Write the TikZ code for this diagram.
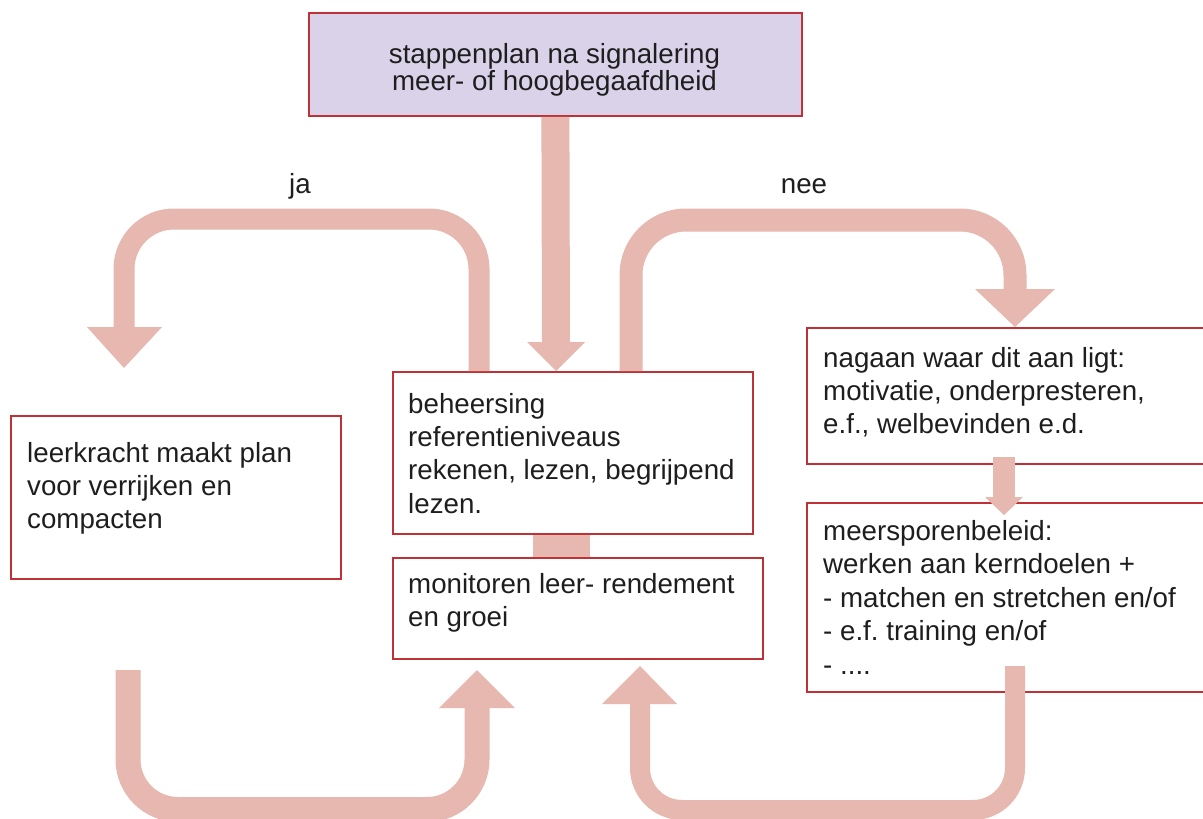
\documentclass[tikz,border=0pt]{standalone}
\usepackage{fontspec}
\setmainfont{Liberation Sans}
\frenchspacing
\definecolor{boxred}{RGB}{190,50,55}
\definecolor{arrowpink}{RGB}{230,184,175}
\definecolor{lav}{RGB}{217,210,233}
\definecolor{ink}{RGB}{30,30,30}
\begin{document}
\begin{tikzpicture}[x=1pt,y=-1pt,
  box/.style={draw=boxred, line width=1.8pt, fill=white, rectangle, inner sep=0pt, anchor=north west},
  txt/.style={inner sep=0pt, anchor=base west, text=ink, font=\fontsize{27.7}{33.4}\selectfont},
  band/.style={draw=arrowpink, line cap=butt},
  head/.style={fill=arrowpink, draw=none}]
\clip (0,0) rectangle (1203,819);
\fill[white] (0,0) rectangle (1203,819);

% boxes
\node[box, fill=lav, minimum width=493pt, minimum height=103pt] (top) at (308,12) {};
\node[box, minimum width=330pt, minimum height=163pt] (lk) at (10,415) {};
\node[box, minimum width=360pt, minimum height=162pt] (beh) at (392,371) {};
\node[box, minimum width=370pt, minimum height=101pt] (mon) at (392,557) {};
\node[box, minimum width=420pt, minimum height=136pt] (nag) at (806,327) {};
\node[box, minimum width=420pt, minimum height=189pt] (mee) at (806,502) {};

% texts
\node[inner sep=0pt, anchor=base, text=ink, font=\fontsize{27.7}{27.2}\selectfont] (topT) at (554.5,63)
  {\parbox[t]{480pt}{\centering stappenplan na signalering\\meer- of hoogbegaafdheid}};
\node[txt] (lkT) at (27,462) {\parbox[t]{320pt}{leerkracht maakt plan\\voor verrijken en\\compacten}};
\node[txt] (behT) at (408,413) {\parbox[t]{340pt}{beheersing\\referentieniveaus\\rekenen, lezen, begrijpend\\lezen.}};
\node[txt] (monT) at (408,593) {\parbox[t]{350pt}{monitoren leer- rendement\\en groei}};
\node[txt] (nagT) at (823,367) {\parbox[t]{380pt}{nagaan waar dit aan ligt:\\motivatie, onderpresteren,\\e.f., welbevinden e.d.}};
\node[txt, font=\fontsize{27.7}{33.6}\selectfont] (meeT) at (823,540) {\parbox[t]{380pt}{meersporenbeleid:\\werken aan kerndoelen +\\- matchen en stretchen en/of\\- e.f. training en/of\\- ....}};
\node[inner sep=0pt, anchor=base, text=ink, font=\fontsize{27.7}{33.4}\selectfont] (ja) at (300,193) {ja};
\node[inner sep=0pt, anchor=base, text=ink, font=\fontsize{27.7}{33.4}\selectfont] (nee) at (804,193) {nee};

% connector coordinates
\coordinate (jaS) at (beh.north -| 479,0);
\coordinate (jaB) at (124,327);
\coordinate (jaT) at (124,368);
\coordinate (ctS) at (top.south);
\coordinate (ctB) at (556,342);
\coordinate (ctT) at (beh.north -| 556,0);
\coordinate (neS) at (beh.north -| 631,0);
\coordinate (neB) at (1015,289);
\coordinate (neT) at (nag.north -| 1015,0);
\coordinate (smS) at (1004,457);
\coordinate (smB) at (1004,497);
\coordinate (smT) at (1004,515);
\coordinate (bmS) at (beh.south -| 561.5,0);
\coordinate (bmE) at (mon.north -| 561.5,0);
\coordinate (luS) at (128,670);
\coordinate (luB) at (477,708);
\coordinate (luT) at (mon.south -| 477,670);
\coordinate (ruS) at (1015,666);
\coordinate (ruB) at (640,704);
\coordinate (ruT) at (640,666);

% ja arrow
\draw[band, line width=21pt, rounded corners=50pt] (jaS) |- (124,219) -- (jaB);
\fill[head] (87,327) -- (162,327) -- (jaT) -- cycle;
% central arrow
\draw[band, line width=28pt] (ctS) -- (ctB);
\fill[head] (527,342) -- (585,342) -- (ctT) -- cycle;
% nee arrow
\draw[band, line width=23pt, rounded corners=55pt] (neS) |- (1015,220) -- (neB);
\fill[head] (975,289) -- (1055,289) -- (neT) -- cycle;
% small arrow
\draw[band, line width=22pt] (smS) -- (smB);
\fill[head] (985,497) -- (1023,497) -- (smT) -- cycle;
% block between centre boxes
\draw[band, line width=57pt] (bmS) -- (bmE);
% bottom left U
\draw[band, line width=25pt, rounded corners=50pt] (luS) |- (477,809.5) -- (luB);
\fill[head] (439,708) -- (515,708) -- (477,670) -- cycle;
% bottom right U
\draw[band, line width=20pt, rounded corners=42pt] (ruS) |- (640,810) -- (ruB);
\fill[head] (602,704) -- (677,704) -- (ruT) -- cycle;
\end{tikzpicture}
\end{document}
